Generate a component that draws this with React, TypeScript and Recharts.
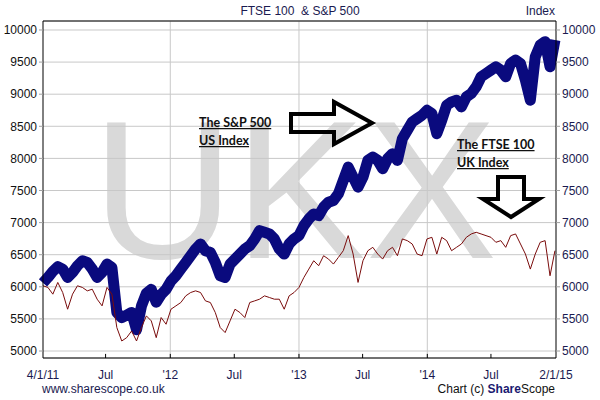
import { LineChart, Line, XAxis, YAxis, CartesianGrid, ReferenceLine } from "recharts";

// samples every 14 days from 4/1/11
const STEP_DAYS = 14;

// S&P 500, rebased onto the FTSE scale
const spx = [
  6060, 6146, 6240, 6313, 6276, 6146, 6224, 6328, 6406, 6380,
  6276, 6146, 6224, 6354, 6300, 5600, 5520, 5560, 5600, 5330,
  5700, 5900, 5960, 5760, 5880, 5960, 6090, 6172, 6276, 6380,
  6484, 6589, 6667, 6562, 6536, 6380, 6172, 6146, 6354, 6432,
  6510, 6589, 6641, 6745, 6875, 6849, 6823, 6745, 6589, 6510,
  6667, 6745, 6800, 6953, 7057, 7135, 7109, 7240, 7318, 7344,
  7448, 7656, 7865, 7708, 7552, 7708, 7969, 8021, 7969, 7839,
  7995, 8073, 7969, 8307, 8437, 8568, 8620, 8672, 8750, 8698,
  8385, 8594, 8828, 8880, 8906, 8802, 8958, 9010, 9115, 9271,
  9323, 9375, 9427, 9375, 9271, 9479, 9531, 9479, 9219, 8906,
  9583, 9766, 9818, 9427, 9844,
];

// FTSE 100
const ukx = [
  6016, 5990, 5885, 6068, 5911, 5651, 5885, 6016, 5990, 5937,
  5963, 5807, 5703, 5990, 5885, 5365, 5156, 5208, 5312, 5156,
  5365, 5547, 5469, 5208, 5521, 5417, 5651, 5703, 5755, 5859,
  5911, 5937, 5911, 5781, 5755, 5599, 5365, 5287, 5469, 5651,
  5599, 5521, 5755, 5781, 5807, 5859, 5833, 5807, 5807, 5651,
  5859, 5911, 5990, 6146, 6276, 6406, 6328, 6484, 6432, 6354,
  6458, 6562, 6797, 6510, 6068, 6406, 6562, 6615, 6510, 6432,
  6562, 6615, 6484, 6745, 6719, 6667, 6510, 6484, 6745, 6771,
  6510, 6771, 6719, 6562, 6615, 6667, 6771, 6823, 6849, 6823,
  6797, 6771, 6693, 6719, 6615, 6797, 6823, 6667, 6510, 6276,
  6510, 6693, 6719, 6172, 6562,
];

// days since 4/1/11
const xTicks = [0, 178, 362, 544, 728, 909, 1093, 1274, 1459];
const xTickLabels = ["4/1/11", "Jul", "'12", "Jul", "'13", "Jul", "'14", "Jul", "2/1/15"];
const yearLines = [362, 728, 1093];
const yTicks = [5000, 5500, 6000, 6500, 7000, 7500, 8000, 8500, 9000, 9500, 10000];
const yDomain = [4891, 10140];

const data = spx.map((v, i) => ({ day: i * STEP_DAYS, spx: v, ukx: ukx[i] }));

const FONT = "'Liberation Sans', Arial, sans-serif";
const NAVY = "#1a1a50";

export default function App() {
  return (
    <div style={{ position: "fixed", left: 0, top: 0, width: 600, height: 400, background: "#fff" }}>
      {/* watermark sits behind the chart */}
      <svg width={600} height={400} style={{ position: "absolute", left: 0, top: 0 }}>
        <text x={92} y={258} fontFamily={FONT} fontSize={197} fill="#d9d9d9">UKX</text>
      </svg>

      <div style={{ position: "absolute", left: 0, top: 0 }}>
        <LineChart width={600} height={400} data={data} margin={{ top: 21, right: 0, bottom: 22, left: 0 }}>
          <CartesianGrid vertical={false} stroke="#c8c8c8" yAxisId="l" />
          <XAxis
            dataKey="day"
            type="number"
            domain={[0, 1459]}
            ticks={xTicks}
            tickFormatter={(v: number) => xTickLabels[xTicks.indexOf(v)]}
            interval={0}
            height={20}
            tickLine={false}
            tickMargin={6}
            axisLine={{ stroke: "#000" }}
            tick={{ fill: NAVY, fontSize: 12, fontFamily: FONT }}
          />
          <YAxis
            yAxisId="l"
            orientation="left"
            width={43}
            domain={yDomain}
            ticks={yTicks}
            interval={0}
            allowDataOverflow
            tickSize={4}
            tickMargin={2}
            tickLine={{ stroke: "#a0a0a0" }}
            axisLine={{ stroke: "#000" }}
            tick={{ fill: "#111", fontSize: 12, fontFamily: FONT }}
          />
          <YAxis
            yAxisId="r"
            orientation="right"
            width={44}
            domain={yDomain}
            ticks={yTicks}
            interval={0}
            allowDataOverflow
            tickSize={4}
            tickMargin={2}
            tickLine={{ stroke: "#a0a0a0" }}
            axisLine={{ stroke: "#000" }}
            tick={{ fill: NAVY, fontSize: 12, fontFamily: FONT }}
          />
          {yearLines.map((d) => (
            <ReferenceLine key={d} x={d} yAxisId="l" stroke="#c8c8c8" />
          ))}
          {xTicks.slice(1, -1).map((d) => (
            <ReferenceLine
              key={"t" + d}
              yAxisId="l"
              segment={[{ x: d, y: yDomain[0] }, { x: d, y: yDomain[0] + 64 }]}
              stroke="#000"
            />
          ))}
          <ReferenceLine y={yDomain[1]} yAxisId="l" stroke="#000" />
          <Line
            yAxisId="l"
            dataKey="spx"
            stroke="#0a0a7e"
            strokeWidth={11}
            strokeLinejoin="round"
            strokeLinecap="butt"
            dot={false}
            type="linear"
            isAnimationActive={false}
          />
          <Line
            yAxisId="r"
            dataKey="ukx"
            stroke="#7a0c0c"
            strokeWidth={1}
            dot={false}
            type="linear"
            isAnimationActive={false}
          />
        </LineChart>
      </div>

      {/* titles, footer and hand drawn notes */}
      <svg width={600} height={400} style={{ position: "absolute", left: 0, top: 0, pointerEvents: "none" }}>
        <text x={300} y={15} textAnchor="middle" fontFamily={FONT} fontSize={12} fill={NAVY} style={{ whiteSpace: "pre" }}>
          FTSE 100  &amp; S&amp;P 500
        </text>
        <text x={555} y={15} textAnchor="end" fontFamily={FONT} fontSize={12} fill={NAVY}>Index</text>
        <text x={42} y={393} fontFamily={FONT} fontSize={12} fill={NAVY}>www.sharescope.co.uk</text>
        <text x={555} y={393} textAnchor="end" fontFamily={FONT} fontSize={12} fill="#111">
          Chart (c) <tspan fontWeight="bold" fill="#1a1a70">Share</tspan>Scope
        </text>

        <g fontFamily="Lato, 'Open Sans', sans-serif" fontWeight="bold" fontSize={12.5} fill="#111" style={{ textDecoration: "underline" }}>
          <text x={199} y={127}>The S&amp;P 500</text>
          <text x={199} y={145}>US Index</text>
          <text x={457} y={149}>The FTSE 100</text>
          <text x={457} y={167}>UK Index</text>
        </g>
        <polygon
          points="291,114 334,114 334,102 372,123 334,144 334,132 291,132"
          fill="none"
          stroke="#000"
          strokeWidth={4}
        />
        <polygon
          points="498,177 524,177 524,199 539,199 511,217 483,199 498,199"
          fill="none"
          stroke="#000"
          strokeWidth={4}
        />
      </svg>
    </div>
  );
}
